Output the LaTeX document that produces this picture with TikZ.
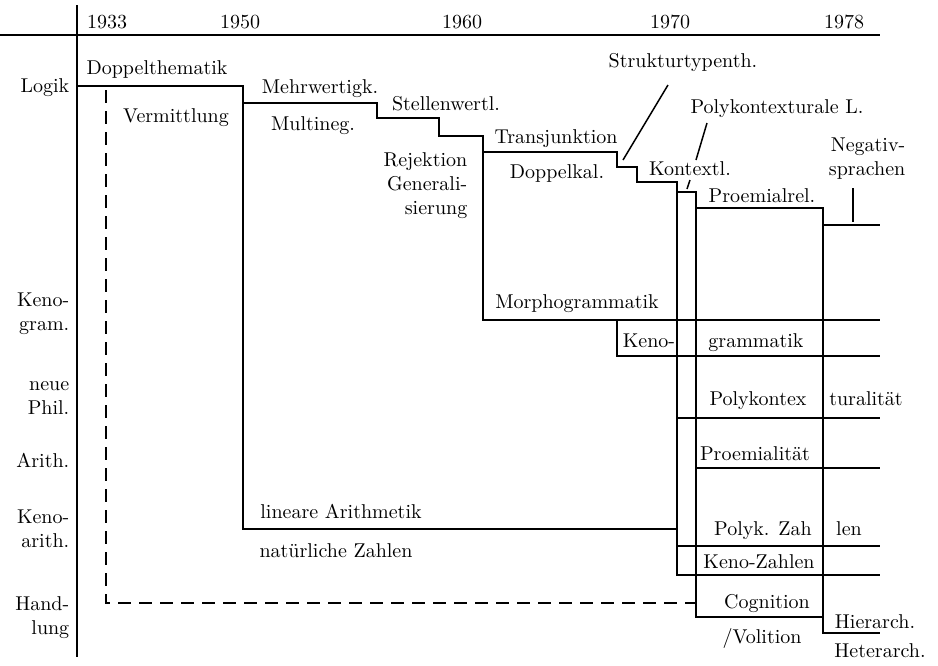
\documentclass[tikz,border=0pt]{standalone}
\usepackage{fontspec}
\begin{document}
\begin{tikzpicture}[x=0.5pt,y=-0.5pt,line width=0.75pt,
    lbl/.style={inner sep=0pt,anchor=base},
    side/.style={inner sep=0pt,anchor=base east,align=right}]
\useasboundingbox (0,0) rectangle (938,665);
\draw (0,35)--(880,35);
\draw (77,5)--(77,657);
\node[lbl] (y33) at (107,28) {1933};
\node[lbl] (y50) at (240,28) {1950};
\node[lbl] (y60) at (462,28) {1960};
\node[lbl] (y70) at (670,28) {1970};
\node[lbl] (y78) at (844,28) {1978};
\node[side] (logik) at (70,92) {Logik};
\node[side] (kenogram) at (70,330) {Keno-\\gram.};
\node[side] (phil) at (70,414) {neue\\Phil.};
\node[side] (arith) at (70,467) {Arith.};
\node[side] (kenoarith) at (70,547) {Keno-\\arith.};
\node[side] (handlung) at (70,634) {Hand-\\lung};
\draw (77,86)--(243,86)--(243,103)--(377,103)--(377,118)--(439,118)--(439,136)
  --(483,136)--(483,152)--(617,152)--(617,167)--(637,167)--(637,182)--(677,182)
  --(677,192)--(696,192)--(696,208)--(823,208)--(823,225)--(880,225);
\draw (243,103)--(243,529)--(677,529);
\draw (483,152)--(483,320)--(880,320);
\draw (617,320)--(617,356)--(880,356);
\draw (677,192)--(677,575)--(880,575);
\draw (677,418)--(880,418);
\draw (677,546)--(880,546);
\draw (696,208)--(696,617)--(823,617);
\draw (696,468)--(880,468);
\draw (823,225)--(823,633)--(880,633);
\draw[dash pattern=on 6.5pt off 4pt] (106,90)--(106,603)--(696,603);
\draw (668,85)--(623,160);
\draw (707,123)--(696,160);
\draw (690,180)--(687,189);
\draw (853,188)--(853,222);
\node[lbl] (dopth) at (157,74) {Doppelthematik};
\node[lbl] (verm) at (176,122) {Vermittlung};
\node[lbl] (mehrw) at (320,93) {Mehrwertigk.};
\node[lbl] (multi) at (313,130) {Multineg.};
\node[lbl] (stellw) at (446,110) {Stellenwertl.};
\node[side] (rejekt) at (468,214) {Rejektion\\Generali-\\sierung};
\node[lbl] (transj) at (556,143) {Transjunktion};
\node[lbl] (dopkal) at (557,178) {Doppelkal.};
\node[lbl] (struk) at (683,67) {Strukturtypenth.};
\node[lbl] (polyl) at (777,113) {Polykontexturale L.};
\node[lbl] (kontl) at (690,175) {Kontextl.};
\node[lbl] (proemrel) at (762,202) {Proemialrel.};
\node[side] (negativ) at (906,175) {Negativ-\\sprachen};
\node[lbl] (morph) at (577,308) {Morphogrammatik};
\node[lbl] (keno) at (649,347) {Keno-};
\node[lbl] (gramm) at (756,347) {grammatik};
\node[lbl] (polyk) at (758,405) {Polykontex};
\node[lbl] (tural) at (866,405) {turalität};
\node[lbl] (proem) at (755,460) {Proemialität};
\node[lbl] (linar) at (341,518) {lineare Arithmetik};
\node[lbl] (natz) at (336,557) {natürliche Zahlen};
\node[lbl] (polyz) at (763,535) {Polyk. Zah};
\node[lbl] (len) at (849,535) {len};
\node[lbl] (kenoz) at (759,568) {Keno-Zahlen};
\node[lbl] (cogn) at (767,608) {Cognition};
\node[lbl] (vol) at (762,643) {/Volition};
\node[lbl] (hier) at (875,628) {Hierarch.};
\node[lbl] (heter) at (880,657) {Heterarch.};
\end{tikzpicture}
\end{document}
